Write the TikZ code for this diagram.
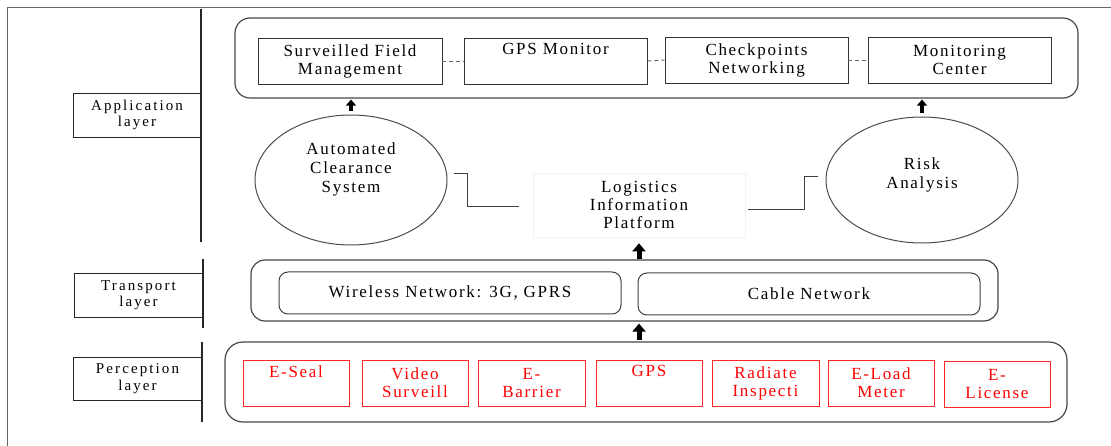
\documentclass[tikz,border=0pt]{standalone}
\usepackage{fontspec}
\setmainfont{Liberation Serif}[LetterSpace=10]
\newfontfamily\layerfont{Liberation Serif}[LetterSpace=14]
\usetikzlibrary{shapes.geometric,arrows.meta}
\begin{document}
\begin{tikzpicture}[x=1pt,y=-1pt,
  frameline/.style={draw=black!60, line width=0.9pt},
  sepline/.style={draw=black!85, line width=1.1pt},
  layerbox/.style={draw=black!85, line width=0.9pt, inner sep=0pt, align=center,
    font=\layerfont\fontsize{15}{16.5}\selectfont},
  group/.style={draw=black!72, line width=1.2pt, rounded corners=15pt, inner sep=0pt},
  appbox/.style={draw=black!80, line width=0.9pt, inner sep=0pt, align=center,
    minimum height=46pt, font=\fontsize{17}{18}\selectfont},
  netbox/.style={draw=black!75, line width=1pt, rounded corners=9pt, inner sep=0pt,
    minimum width=342pt, minimum height=42pt, font=\fontsize{17}{18}\selectfont},
  sensor/.style={draw=red!85, line width=0.9pt, text=red, inner sep=0pt, align=center,
    minimum height=46pt, font=\fontsize{17}{18}\selectfont},
  bubble/.style={ellipse, draw=black!70, line width=1pt, inner sep=0pt},
  bubbletext/.style={align=center, inner sep=0pt, font=\fontsize{17}{19}\selectfont},
  link/.style={draw=black!75, line width=1pt},
  dashlink/.style={draw=black!60, line width=0.9pt, dash pattern=on 4pt off 3pt},
  fatarrow/.style={line width=4pt, -{Triangle[width=10pt,length=6pt]}},
  bigarrow/.style={line width=5pt, -{Triangle[width=13pt,length=8pt]}}
]
\useasboundingbox (0,0) rectangle (1111,446);

% page frame (top and left edges)
\draw[frameline] (7,7) -- (1111,7);
\draw[frameline] (7,7) -- (7,446);

% layer labels and their separators
\node[layerbox, minimum width=128pt, minimum height=44pt] (lapp) at (137,115) {Application\\layer};
\node[layerbox, minimum width=129pt, minimum height=44pt] (ltr) at (138.5,295) {Transport\\layer};
\node[layerbox, minimum width=129pt, minimum height=43pt] (lper) at (137.5,378.5) {Perception\\layer};
\draw[sepline] (201,9) -- (201,242);
\draw[sepline] (203,259) -- (203,328);
\draw[sepline] (202,342) -- (202,422);

% application layer
\node[group, minimum width=843pt, minimum height=80pt] (appgrp) at (656.5,58) {};
\node[appbox, minimum width=184pt] (sfm) at (350,61) {Surveilled Field\\Management};
\node[appbox, minimum width=183pt] (gpsm) at (555.5,61) {GPS Monitor\\\strut};
\node[appbox, minimum width=183pt] (cpn) at (756.5,60) {Checkpoints\\Networking};
\node[appbox, minimum width=183pt] (mc) at (959.5,60) {Monitoring\\Center};
\draw[dashlink] (sfm.east) -- (gpsm.west);
\draw[dashlink] (gpsm.east) -- (cpn.west);
\draw[dashlink] (cpn.east) -- (mc.west);

\node[bubble, minimum width=192pt, minimum height=130pt] (acs) at (351,180) {};
\node[bubbletext] (acstext) at ([shift={(0,-11)}]acs.center) {Automated\\Clearance\\System};
\node[bubble, minimum width=192pt, minimum height=126pt] (risk) at (922,180) {};
\node[bubbletext] (risktext) at ([shift={(0,-5)}]risk.center) {Risk\\Analysis};

\node[draw=black!5, line width=0.6pt, minimum width=212pt, minimum height=64pt, inner sep=0pt,
  align=center, font=\fontsize{17}{18}\selectfont] (lip) at (639,205) {Logistics\\Information\\Platform};

\draw[link] ([shift={(6,-6)}]acs.east) -- ++(14,0) |- ([shift={(-14,2)}]lip.west);
\draw[link] ([shift={(3,5)}]lip.east) -- ++(56,0) |- ([shift={(-8,-3)}]risk.west);

\draw[fatarrow, shorten <=3pt, shorten >=1pt] (acs.north) -- (acs.north |- appgrp.south);
\draw[fatarrow, shorten <=3pt, shorten >=1pt] (risk.north) -- (risk.north |- appgrp.south);

% transport layer
\node[group, rounded corners=14pt, minimum width=747pt, minimum height=61pt] (trgrp) at (624.5,290.5) {};
\node[netbox] (wireless) at (450,293) {Wireless Network: 3G, GPRS};
\node[netbox] (cable) at (809,294) {Cable Network};
\draw[bigarrow, shorten >=6pt] (lip.south |- trgrp.north) -- (lip.south);

% perception layer
\node[group, rounded corners=18pt, minimum width=842pt, minimum height=80pt] (pergrp) at (646,382) {};
\node[sensor, minimum width=106pt] (eseal) at (296,383) {E-Seal\\\strut};
\node[sensor, minimum width=106pt] (video) at (415,383) {Video\\Surveill};
\node[sensor, minimum width=107pt] (ebar) at (531.5,383) {E-\\Barrier};
\node[sensor, minimum width=106pt] (gps) at (649,383) {GPS\\\strut};
\node[sensor, minimum width=107pt] (rad) at (765.5,383) {Radiate\\Inspecti};
\node[sensor, minimum width=106pt] (eload) at (881,383) {E-Load\\Meter};
\node[sensor, minimum width=106pt] (elic) at (997,384) {E-\\License};
\draw[bigarrow, shorten <=1pt, shorten >=2pt] (lip.south |- pergrp.north) -- (lip.south |- trgrp.south);
\end{tikzpicture}
\end{document}
